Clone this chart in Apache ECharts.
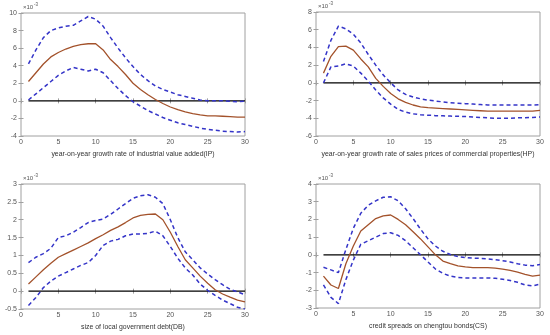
<!DOCTYPE html>
<html><head><meta charset="utf-8">
<script src="https://cdn.jsdelivr.net/npm/echarts@6/dist/echarts.min.js"></script>
<style>html,body{margin:0;padding:0;background:#fff}#c{width:550px;height:335px}</style>
</head><body><div id="c"></div>
<script>
// periods (x axis)
const periods = [1,2,3,4,5,6,7,8,9,10,11,12,13,14,15,16,17,18,19,20,21,22,23,24,25,26,27,28,29,30];

// Values in units of 1e-3
const ipMean  = [2.2,3.2,4.2,5.0,5.5,5.9,6.2,6.4,6.5,6.5,5.8,4.7,3.9,3.0,2.0,1.3,0.7,0.15,-0.3,-0.7,-1.0,-1.25,-1.45,-1.6,-1.7,-1.72,-1.75,-1.8,-1.85,-1.85];
const ipUpper = [4.2,5.8,7.2,8.0,8.3,8.5,8.6,9.1,9.6,9.3,8.5,7.2,6.0,4.9,3.9,3.0,2.3,1.7,1.3,1.0,0.7,0.5,0.3,0.1,0.0,0.0,0.0,-0.05,-0.1,-0.05];
const ipLower = [0.1,0.8,1.5,2.2,2.9,3.4,3.8,3.6,3.4,3.6,3.2,2.3,1.4,0.6,-0.1,-0.6,-1.1,-1.5,-1.9,-2.2,-2.5,-2.7,-2.9,-3.1,-3.25,-3.35,-3.45,-3.5,-3.55,-3.5];

const hpMean  = [1.1,3.0,4.1,4.15,3.7,2.7,1.8,0.5,-0.4,-1.2,-1.8,-2.2,-2.5,-2.7,-2.8,-2.85,-2.9,-2.95,-3.0,-3.05,-3.1,-3.15,-3.2,-3.2,-3.2,-3.2,-3.2,-3.2,-3.2,-3.1];
const hpUpper = [2.4,4.8,6.4,6.1,5.5,4.5,3.2,2.0,0.9,0.0,-0.8,-1.3,-1.6,-1.8,-1.95,-2.05,-2.15,-2.25,-2.3,-2.35,-2.4,-2.45,-2.5,-2.5,-2.5,-2.5,-2.5,-2.5,-2.5,-2.45];
const hpLower = [0.0,1.8,1.9,2.15,1.9,1.1,0.2,-0.8,-1.7,-2.4,-3.0,-3.3,-3.5,-3.6,-3.65,-3.7,-3.72,-3.75,-3.78,-3.8,-3.85,-3.9,-3.95,-4.0,-4.0,-4.0,-3.95,-3.95,-3.9,-3.85];

const dbMean  = [0.2,0.4,0.6,0.78,0.95,1.05,1.15,1.25,1.35,1.47,1.58,1.7,1.8,1.92,2.05,2.12,2.15,2.16,2.0,1.65,1.25,0.88,0.65,0.42,0.22,0.04,-0.08,-0.17,-0.25,-0.3];
const dbUpper = [0.8,0.95,1.05,1.2,1.5,1.55,1.65,1.78,1.92,1.98,2.02,2.15,2.3,2.45,2.6,2.67,2.7,2.63,2.45,2.0,1.5,1.1,0.88,0.65,0.48,0.32,0.18,0.05,-0.02,-0.1];
const dbLower = [-0.4,-0.18,0.1,0.28,0.42,0.52,0.62,0.72,0.8,1.0,1.28,1.4,1.45,1.55,1.6,1.6,1.62,1.68,1.55,1.25,0.92,0.65,0.45,0.2,0.02,-0.12,-0.25,-0.35,-0.45,-0.5];

const csMean  = [-1.2,-1.7,-1.9,-0.5,0.5,1.35,1.7,2.05,2.2,2.25,2.0,1.7,1.3,0.9,0.45,0.0,-0.35,-0.5,-0.62,-0.68,-0.72,-0.72,-0.72,-0.75,-0.8,-0.88,-0.98,-1.1,-1.2,-1.15];
const csUpper = [-0.7,-0.85,-1.0,0.3,1.5,2.35,2.8,3.05,3.25,3.28,3.05,2.6,2.05,1.45,0.9,0.5,0.2,0.02,-0.1,-0.15,-0.18,-0.2,-0.22,-0.28,-0.33,-0.4,-0.5,-0.58,-0.62,-0.55];
const csLower = [-1.7,-2.4,-2.75,-1.4,-0.3,0.6,0.8,1.0,1.2,1.25,1.1,0.8,0.4,0.0,-0.4,-0.8,-1.05,-1.2,-1.28,-1.3,-1.3,-1.3,-1.3,-1.32,-1.38,-1.45,-1.55,-1.7,-1.75,-1.65];

const titles = [
  'year-on-year growth rate of industrial value added(IP)',
  'year-on-year growth rate of sales prices of commercial properties(HP)',
  'size of local government debt(DB)',
  'credit spreads on chengtou bonds(CS)'
];
const yMins = [-4, -6, -0.5, -3];
const yMaxs = [10, 8, 3, 4];
const yIntervals = [2, 2, 0.5, 1];
const xTicks = {min: 0, max: 30, interval: 5};
const exponentLabel = '×10';
const exponentPower = '-3';

const panels = [
  {mean: ipMean, upper: ipUpper, lower: ipLower},
  {mean: hpMean, upper: hpUpper, lower: hpLower},
  {mean: dbMean, upper: dbUpper, lower: dbLower},
  {mean: csMean, upper: csUpper, lower: csLower}
];

const grids = [
  {left: 21, top: 13, width: 224, height: 123},
  {left: 316, top: 12, width: 224, height: 124},
  {left: 21, top: 184, width: 224, height: 125},
  {left: 316, top: 184, width: 224, height: 124}
];

const FONT = 'Liberation Sans, Arial, sans-serif';
const AXC = '#a0a0a0';
const LBL = '#555';
const BROWN = '#a3522b';
const BLUE = '#3434c8';

const pairs = arr => periods.map((p, i) => [p, arr[i]]);

const option = {
  animation: false,
  backgroundColor: '#fff',
  grid: grids.map(g => Object.assign({show: true, borderColor: AXC, borderWidth: 1, backgroundColor: 'transparent'}, g)),
  xAxis: [], yAxis: [], series: [], graphic: []
};

panels.forEach((p, i) => {
  option.xAxis.push({
    type: 'value', gridIndex: i, min: xTicks.min, max: xTicks.max, interval: xTicks.interval,
    name: titles[i], nameLocation: 'middle', nameGap: 15,
    nameTextStyle: {fontFamily: FONT, fontSize: 6.9, color: '#333'},
    axisLine: {show: false}, splitLine: {show: false},
    axisTick: {show: true, inside: true, length: 2.5, lineStyle: {color: AXC}},
    axisLabel: {fontFamily: FONT, fontSize: 7, color: LBL, margin: 3}
  });
  option.xAxis.push({
    type: 'value', gridIndex: i, position: 'top', min: xTicks.min, max: xTicks.max, interval: xTicks.interval,
    axisLine: {show: false}, splitLine: {show: false}, axisLabel: {show: false},
    axisTick: {show: true, inside: true, length: 2.5, lineStyle: {color: AXC}}
  });
  option.yAxis.push({
    type: 'value', gridIndex: i, min: yMins[i], max: yMaxs[i], interval: yIntervals[i],
    axisLine: {show: false}, splitLine: {show: false},
    axisTick: {show: true, inside: true, length: 2.5, lineStyle: {color: AXC}},
    axisLabel: {fontFamily: FONT, fontSize: 7, color: LBL, margin: 4}
  });
  option.yAxis.push({
    type: 'value', gridIndex: i, position: 'right', min: yMins[i], max: yMaxs[i], interval: yIntervals[i],
    axisLine: {show: false}, splitLine: {show: false}, axisLabel: {show: false},
    axisTick: {show: true, inside: true, length: 2.5, lineStyle: {color: AXC}}
  });
  const xi = i * 2, yi = i * 2;
  option.series.push({
    type: 'line', xAxisIndex: xi, yAxisIndex: yi, symbol: 'none', silent: true,
    data: [[periods[0], 0], [periods[periods.length - 1], 0]],
    lineStyle: {color: '#000', width: 1.3}
  });
  option.series.push({
    type: 'line', xAxisIndex: xi, yAxisIndex: yi, symbol: 'none', data: pairs(p.upper),
    lineStyle: {color: BLUE, width: 1.5, type: [4, 3]}
  });
  option.series.push({
    type: 'line', xAxisIndex: xi, yAxisIndex: yi, symbol: 'none', data: pairs(p.lower),
    lineStyle: {color: BLUE, width: 1.5, type: [4, 3]}
  });
  option.series.push({
    type: 'line', xAxisIndex: xi, yAxisIndex: yi, symbol: 'none', data: pairs(p.mean),
    lineStyle: {color: BROWN, width: 1.3}
  });
  const g = grids[i];
  option.graphic.push({
    type: 'text', left: g.left + 2, top: g.top - 9,
    style: {text: exponentLabel, fontFamily: FONT, fontSize: 6, fill: LBL}
  });
  option.graphic.push({
    type: 'text', left: g.left + 13, top: g.top - 11,
    style: {text: exponentPower, fontFamily: FONT, fontSize: 4.5, fill: LBL}
  });
});

echarts.init(document.getElementById('c'), null, {renderer: 'canvas'}).setOption(option);
</script>
</body></html>
